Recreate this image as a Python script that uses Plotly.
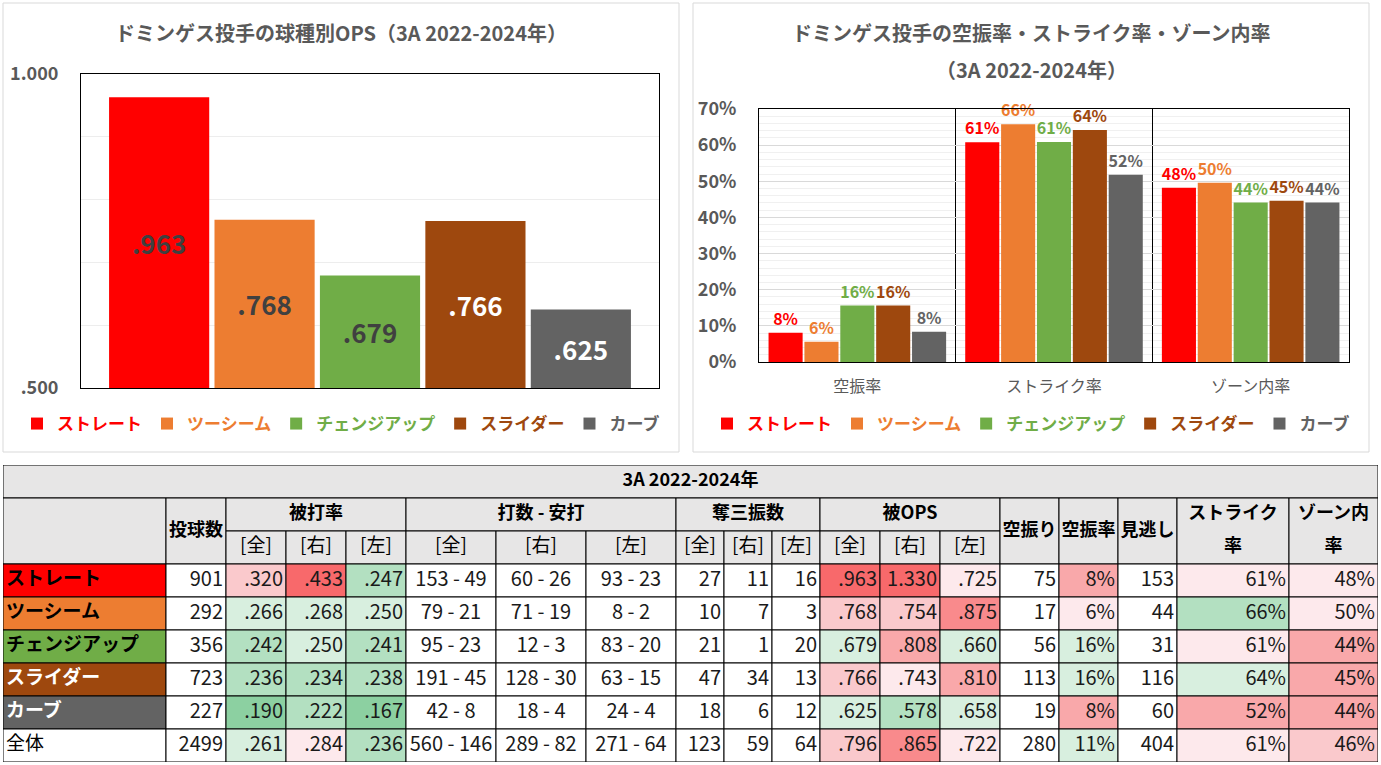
import plotly.graph_objects as go

# ------------------------------------------------------------------ data
pitch_types = ["ストレート", "ツーシーム", "チェンジアップ", "スライダー", "カーブ"]
ops_by_pitch = [0.963, 0.768, 0.679, 0.766, 0.625]

rate_categories = ["空振率", "ストライク率", "ゾーン内率"]
whiff_rate = [0.081, 0.056, 0.156, 0.156, 0.084]
strike_rate = [0.608, 0.658, 0.609, 0.642, 0.518]
zone_rate = [0.482, 0.496, 0.441, 0.446, 0.441]

table_title = "3A 2022-2024年"
row_labels = pitch_types + ["全体"]
pitch_counts = [901, 292, 356, 723, 227, 2499]
avg_all = [0.320, 0.266, 0.242, 0.236, 0.190, 0.261]
avg_r = [0.433, 0.268, 0.250, 0.234, 0.222, 0.284]
avg_l = [0.247, 0.250, 0.241, 0.238, 0.167, 0.236]
ab_all = [153, 79, 95, 191, 42, 560]
hits_all = [49, 21, 23, 45, 8, 146]
ab_r = [60, 71, 12, 128, 18, 289]
hits_r = [26, 19, 3, 30, 4, 82]
ab_l = [93, 8, 83, 63, 24, 271]
hits_l = [23, 2, 20, 15, 4, 64]
so_all = [27, 10, 21, 47, 18, 123]
so_r = [11, 7, 1, 34, 6, 59]
so_l = [16, 3, 20, 13, 12, 64]
ops_all = [0.963, 0.768, 0.679, 0.766, 0.625, 0.796]
ops_r = [1.330, 0.754, 0.808, 0.743, 0.578, 0.865]
ops_l = [0.725, 0.875, 0.660, 0.810, 0.658, 0.722]
whiffs = [75, 17, 56, 113, 19, 280]
whiff_pct = [8, 6, 16, 16, 8, 11]
called_strikes = [153, 44, 31, 116, 60, 404]
strike_pct = [61, 66, 61, 64, 52, 61]
zone_pct = [48, 50, 44, 45, 44, 46]

group_headers = ["被打率", "打数 - 安打", "奪三振数", "被OPS"]
sub_headers = ["[全]", "[右]", "[左]"]

# ------------------------------------------------------------------ styles
pitch_colors = ["#FF0000", "#ED7D31", "#70AD47", "#9E480E", "#636363"]
ops_label_colors = ["#404040", "#404040", "#404040", "#FFFFFF", "#FFFFFF"]
row_label_text = ["#000000", "#000000", "#000000", "#FFFFFF", "#FFFFFF", "#000000"]
heat = {"R4": "#F8696B", "R3": "#F98A8C", "P3": "#F9A8AA", "P2": "#FAC9CC",
        "P1": "#FDE9EC", "G1": "#D8EFDF", "G2": "#B3E0C1", "G3": "#8CD0A1", "W": "#FFFFFF"}
heat_avg_all = ["P2", "G1", "G2", "G2", "G3", "G1"]
heat_avg_r = ["R4", "G1", "G1", "G2", "G2", "P1"]
heat_avg_l = ["G2", "G1", "G2", "G2", "G3", "G2"]
heat_ops_all = ["R4", "P2", "G1", "P2", "G1", "P2"]
heat_ops_r = ["R4", "P2", "P3", "P1", "G2", "R3"]
heat_ops_l = ["P1", "R3", "G1", "P3", "G1", "P1"]
heat_whiff = ["P3", "P1", "G1", "G1", "P3", "G1"]
heat_strike = ["P1", "G2", "P1", "G1", "P3", "P1"]
heat_zone = ["P1", "P1", "P3", "P3", "P3", "P2"]

CJK = "Noto Sans CJK JP"
NUM = "Noto Sans CJK JP"
GRAY = "#595959"
HDR = "#E7E6E6"
W, H = 1381, 765

# table geometry in pixels
col_x = [3, 166, 226, 286, 346, 406, 496, 586, 676, 724, 772, 820, 880, 940, 1000,
         1059, 1118, 1177, 1289, 1378]
row_y = [465, 498, 531, 564, 597, 630, 663, 696, 729, 762]


def px(x):
    return x / W


def py(y):
    return 1 - y / H


def fmt3(vals):
    out = []
    for v in vals:
        s = f"{v:.3f}"
        out.append(s[1:] if s.startswith("0") else s)
    return out


fig = go.Figure()

# ------------------------------------------------------------------ left chart
for i, name in enumerate(pitch_types):
    fig.add_trace(go.Bar(
        x=["OPS"], y=[ops_by_pitch[i] - 0.5], base=[0.5],
        name=f"<span style='color:{pitch_colors[i]}'>{name}</span>",
        marker=dict(color=pitch_colors[i], line=dict(width=0)),
        text=fmt3([ops_by_pitch[i]]), textposition="inside", insidetextanchor="middle",
        textangle=0, constraintext="none",
        textfont=dict(family=CJK, size=26, color=ops_label_colors[i], weight="bold"),
        xaxis="x", yaxis="y", legend="legend", hoverinfo="skip",
    ))

# ------------------------------------------------------------------ right chart
for i, name in enumerate(pitch_types):
    fig.add_trace(go.Bar(
        x=rate_categories, y=[whiff_rate[i], strike_rate[i], zone_rate[i]],
        name=f"<span style='color:{pitch_colors[i]}'>{name}</span>",
        marker=dict(color=pitch_colors[i], line=dict(width=0)),
        texttemplate="%{y:.0%}", textposition="outside", cliponaxis=False,
        constraintext="none",
        textfont=dict(family=CJK, size=16, color=pitch_colors[i], weight="bold"),
        xaxis="x2", yaxis="y2", legend="legend2", hoverinfo="skip",
    ))

# ------------------------------------------------------------------ table
shapes = []
tx, ty, tt, tpos, tfam, tsize, tcol = [], [], [], [], [], [], []


def add_text(x, y, text, pos, fam, size, color):
    tx.append(x); ty.append(y); tt.append(text); tpos.append(pos)
    tfam.append(fam); tsize.append(size); tcol.append(color)


def add_cell(r0, r1, c0, c1, fill, text="", align="center", size=18, bold=False,
             color="#000000", family=CJK):
    x0, x1 = col_x[c0], col_x[c1 + 1]
    y0, y1 = row_y[r0], row_y[r1 + 1]
    shapes.append(dict(type="rect", xref="x3", yref="y3", x0=x0, x1=x1, y0=y0, y1=y1,
                       fillcolor=fill, line=dict(color="#000000", width=1), layer="below"))
    if text:
        t = f"<b>{text}</b>" if bold else text
        ym = (y0 + y1) / 2
        if align == "right":
            add_text(x1 - 3, ym, t, "middle left", family, size, color)
        elif align == "left":
            add_text(x0 + 3, ym, t, "middle right", family, size, color)
        else:
            add_text((x0 + x1) / 2, ym, t, "middle center", family, size, color)


# header
add_cell(0, 0, 0, 18, HDR, table_title, bold=True, size=18)
add_cell(1, 2, 0, 0, HDR)
add_cell(1, 2, 1, 1, HDR, "投球数", bold=True)
for g, name in enumerate(group_headers):
    c0 = 2 + 3 * g
    add_cell(1, 1, c0, c0 + 2, HDR, name, bold=True)
    for k, s in enumerate(sub_headers):
        add_cell(2, 2, c0 + k, c0 + k, HDR, s, size=19)
add_cell(1, 2, 14, 14, HDR, "空振り", bold=True)
add_cell(1, 2, 15, 15, HDR, "空振率", bold=True)
add_cell(1, 2, 16, 16, HDR, "見逃し", bold=True)
add_cell(1, 2, 17, 17, HDR)
add_cell(1, 2, 18, 18, HDR)
for c, (l1, l2) in [(17, ("ストライク", "率")), (18, ("ゾーン内", "率"))]:
    xm = (col_x[c] + col_x[c + 1]) / 2
    add_text(xm, (row_y[1] + row_y[2]) / 2, f"<b>{l1}</b>", "middle center", CJK, 18, "#000000")
    add_text(xm, (row_y[2] + row_y[3]) / 2, f"<b>{l2}</b>", "middle center", CJK, 18, "#000000")

body_columns = [
    ([str(v) for v in pitch_counts], "right", None),
    (fmt3(avg_all), "right", heat_avg_all),
    (fmt3(avg_r), "right", heat_avg_r),
    (fmt3(avg_l), "right", heat_avg_l),
    ([f"{a} - {h}" for a, h in zip(ab_all, hits_all)], "center", None),
    ([f"{a} - {h}" for a, h in zip(ab_r, hits_r)], "center", None),
    ([f"{a} - {h}" for a, h in zip(ab_l, hits_l)], "center", None),
    ([str(v) for v in so_all], "right", None),
    ([str(v) for v in so_r], "right", None),
    ([str(v) for v in so_l], "right", None),
    (fmt3(ops_all), "right", heat_ops_all),
    (fmt3(ops_r), "right", heat_ops_r),
    (fmt3(ops_l), "right", heat_ops_l),
    ([str(v) for v in whiffs], "right", None),
    ([f"{v}%" for v in whiff_pct], "right", heat_whiff),
    ([str(v) for v in called_strikes], "right", None),
    ([f"{v}%" for v in strike_pct], "right", heat_strike),
    ([f"{v}%" for v in zone_pct], "right", heat_zone),
]

for r, label in enumerate(row_labels):
    rr = r + 3
    is_pitch = r < len(pitch_types)
    add_cell(rr, rr, 0, 0, pitch_colors[r] if is_pitch else "#FFFFFF", label,
             align="left", size=19, bold=is_pitch, color=row_label_text[r])
    for j, (vals, align, codes) in enumerate(body_columns):
        fill = heat[codes[r]] if codes else "#FFFFFF"
        add_cell(rr, rr, j + 1, j + 1, fill, vals[r], align=align, size=20,
                 color="#1A1A1A", family=NUM)

fig.add_trace(go.Scatter(
    x=tx, y=ty, text=tt, mode="text", textposition=tpos,
    textfont=dict(family=tfam, size=tsize, color=tcol),
    xaxis="x3", yaxis="y3", showlegend=False, hoverinfo="skip",
))

# panel borders
for x0, x1 in [(3, 679), (693, 1369)]:
    shapes.append(dict(type="rect", xref="paper", yref="paper", x0=px(x0), x1=px(x1),
                       y0=py(452), y1=py(3), line=dict(color="#D9D9D9", width=1),
                       fillcolor="rgba(0,0,0,0)", layer="below"))

ann_common = dict(xref="paper", yref="paper", showarrow=False,
                  xanchor="center", yanchor="middle",
                  font=dict(family=CJK, size=20, color=GRAY))
annotations = [
    dict(x=px(341), y=py(33), text="<b>ドミンゲス投手の球種別OPS（3A 2022-2024年）</b>",
         **ann_common),
    dict(x=px(1031), y=py(33), text="<b>ドミンゲス投手の空振率・ストライク率・ゾーン内率</b>",
         **ann_common),
    dict(x=px(1031), y=py(69), text="<b>（3A 2022-2024年）</b>", **ann_common),
]

legend_common = dict(orientation="h", yanchor="middle", xanchor="center",
                     font=dict(family=CJK, size=17, weight="bold"),
                     bgcolor="rgba(0,0,0,0)", itemwidth=30, traceorder="normal")

fig.update_layout(
    width=W, height=H, margin=dict(l=0, r=0, t=0, b=0, autoexpand=False),
    paper_bgcolor="#FFFFFF", plot_bgcolor="#FFFFFF",
    font=dict(family=CJK, color=GRAY),
    barmode="group", bargap=0.088, bargroupgap=0.05,
    showlegend=True,
    legend=dict(x=px(341), y=py(424), **legend_common),
    legend2=dict(x=px(1031), y=py(424), **legend_common),
    xaxis=dict(domain=[px(81), px(659)], anchor="y", type="category",
               showticklabels=False, ticks="", showgrid=False, zeroline=False,
               showline=True, linecolor="#000000", linewidth=1, mirror=True,
               fixedrange=True, automargin=False),
    yaxis=dict(domain=[py(388), py(74)], anchor="x", range=[0.5, 1.0],
               tickvals=[0.5, 1.0], ticktext=[".500", "1.000"], showgrid=False,
               zeroline=False, showline=True, linecolor="#000000", linewidth=1, mirror=True,
               ticks="", ticklabelstandoff=18, automargin=False,
               tickfont=dict(family=CJK, size=18, color=GRAY, weight="bold"),
               minor=dict(tickvals=[0.6, 0.7, 0.8, 0.9], showgrid=True,
                          gridcolor="#EDEDED", gridwidth=1, ticks=""),
               fixedrange=True),
    xaxis2=dict(domain=[px(759), px(1349)], anchor="y2", type="category",
                tickson="boundaries", showgrid=True, gridcolor="#000000", gridwidth=1,
                ticks="", showline=True, linecolor="#000000", linewidth=1, mirror=True,
                ticklabelstandoff=10, automargin=False,
                tickfont=dict(family=CJK, size=16, color=GRAY), fixedrange=True),
    yaxis2=dict(domain=[py(362), py(109)], anchor="x2", range=[0, 0.70], dtick=0.1,
                tickformat=".0%", showgrid=True, gridcolor="#D9D9D9", gridwidth=1,
                zeroline=False, showline=True, linecolor="#000000", linewidth=1, mirror=True,
                ticks="", ticklabelstandoff=18, automargin=False,
                tickfont=dict(family=CJK, size=18, color=GRAY, weight="bold"),
                minor=dict(dtick=0.02, showgrid=True, gridcolor="#F0F0F0", gridwidth=1,
                           ticks=""),
                fixedrange=True),
    xaxis3=dict(domain=[px(3), px(1378)], anchor="y3", range=[3, 1378], visible=False,
                fixedrange=True, automargin=False),
    yaxis3=dict(domain=[py(762), py(465)], anchor="x3", range=[762, 465], visible=False,
                fixedrange=True, automargin=False),
    shapes=shapes,
    annotations=annotations,
)

fig.write_html("out.html", config={"displayModeBar": False},
               post_script="document.body.style.margin='0';document.body.style.overflow='hidden';")
